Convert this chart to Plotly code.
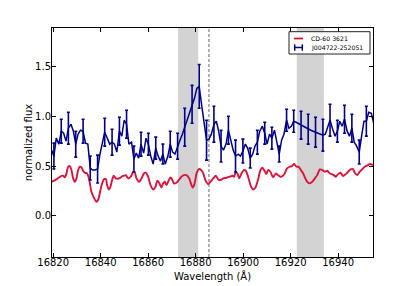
import plotly.graph_objects as go

# ---- data ----
red_name = "CD-60 3621"
red_wl = [16819.3, 16821.4, 16822.8, 16824.2, 16824.9, 16825.6, 16826.3, 16827.0, 16827.7, 16828.4,
          16829.1, 16829.8, 16830.5, 16831.2, 16831.9, 16832.6, 16833.3, 16834.3, 16835.2, 16836.1,
          16837.1, 16838.2, 16839.0, 16839.6, 16840.4, 16841.3, 16842.2, 16842.7, 16843.4, 16844.1,
          16844.8, 16845.5, 16846.4, 16847.8, 16848.8, 16849.8, 16850.6, 16851.6, 16852.7, 16853.7,
          16854.4, 16855.1, 16856.2, 16857.2, 16858.2, 16859.0, 16860.0, 16861.0, 16862.1, 16863.1,
          16863.8, 16864.6, 16865.6, 16866.3, 16867.0, 16867.7, 16868.7, 16869.4, 16870.1, 16870.8,
          16871.9, 16872.9, 16874.0, 16875.0, 16876.1, 16877.3, 16878.0, 16878.7, 16879.4, 16880.4,
          16881.3, 16882.3, 16883.2, 16884.1, 16885.3, 16886.2, 16887.4, 16888.5, 16889.5, 16890.5,
          16891.6, 16893.0, 16894.4, 16895.5, 16896.2, 16896.9, 16897.6, 16898.3, 16899.3, 16900.3,
          16901.1, 16902.1, 16903.1, 16904.2, 16905.2, 16906.3, 16907.3, 16908.1, 16909.1, 16909.8,
          16910.5, 16911.5, 16912.6, 16913.8, 16914.7, 16915.7, 16916.6, 16917.5, 16918.5, 16919.6,
          16920.6, 16921.5, 16922.5, 16923.4, 16924.3, 16925.3, 16926.2, 16927.0, 16928.1, 16929.1,
          16930.2, 16931.2, 16932.3, 16933.4, 16934.4, 16935.4, 16936.5, 16937.2, 16938.2, 16939.0,
          16940.0, 16941.0, 16942.1, 16943.1, 16944.2, 16945.2, 16946.3, 16947.0, 16948.0, 16949.1,
          16950.1, 16951.2, 16952.6, 16953.6, 16954.7]
red_flux = [0.342, 0.366, 0.393, 0.403, 0.386, 0.426, 0.493, 0.500, 0.460, 0.376,
            0.342, 0.376, 0.460, 0.493, 0.487, 0.453, 0.433, 0.426, 0.359, 0.242,
            0.185, 0.141, 0.164, 0.225, 0.309, 0.366, 0.369, 0.309, 0.265, 0.292,
            0.359, 0.403, 0.376, 0.376, 0.393, 0.403, 0.409, 0.376, 0.393, 0.443,
            0.433, 0.376, 0.342, 0.376, 0.426, 0.433, 0.393, 0.309, 0.265, 0.292,
            0.352, 0.332, 0.285, 0.326, 0.342, 0.309, 0.359, 0.386, 0.366, 0.326,
            0.332, 0.359, 0.393, 0.409, 0.409, 0.376, 0.326, 0.285, 0.309, 0.426,
            0.470, 0.460, 0.426, 0.359, 0.319, 0.342, 0.376, 0.403, 0.366, 0.359,
            0.376, 0.383, 0.393, 0.403, 0.393, 0.443, 0.426, 0.376, 0.426, 0.460,
            0.453, 0.393, 0.309, 0.265, 0.285, 0.366, 0.460, 0.483, 0.450, 0.419,
            0.460, 0.443, 0.386, 0.426, 0.409, 0.393, 0.400, 0.426, 0.477, 0.493,
            0.500, 0.520, 0.493, 0.493, 0.460, 0.426, 0.376, 0.342, 0.326, 0.342,
            0.376, 0.409, 0.466, 0.460, 0.443, 0.453, 0.426, 0.419, 0.409, 0.393,
            0.419, 0.433, 0.400, 0.416, 0.443, 0.466, 0.470, 0.433, 0.409, 0.443,
            0.466, 0.493, 0.510, 0.520, 0.510]

blue_name = "J004722-252051"
blue_wl = [16819.3, 16820.3, 16821.3, 16822.4, 16823.4, 16824.4, 16825.4, 16826.4, 16827.5, 16828.5,
           16829.5, 16830.5, 16831.5, 16832.6, 16833.6, 16834.6, 16835.6, 16836.6, 16837.7, 16838.7,
           16839.7, 16840.7, 16841.7, 16842.8, 16843.8, 16844.8, 16845.8, 16846.8, 16847.9, 16848.9,
           16849.9, 16850.9, 16851.9, 16853.0, 16854.0, 16855.0, 16856.0, 16857.0, 16858.1, 16859.1,
           16860.1, 16861.1, 16862.1, 16863.2, 16864.2, 16865.2, 16866.2, 16867.2, 16868.3, 16869.3,
           16870.3, 16871.3, 16872.4, 16873.4, 16874.4, 16875.4, 16876.4, 16877.5, 16878.5, 16879.5,
           16880.5, 16881.5, 16882.6, 16883.6, 16884.6, 16885.6, 16886.6, 16887.7, 16888.7, 16889.7,
           16890.7, 16891.7, 16892.8, 16893.8, 16894.8, 16895.8, 16896.8, 16897.9, 16898.9, 16899.9,
           16900.9, 16901.9, 16903.0, 16904.0, 16905.0, 16906.0, 16907.0, 16908.1, 16909.1, 16910.1,
           16911.1, 16912.1, 16913.2, 16914.2, 16915.2, 16916.2, 16917.2, 16918.3, 16919.3, 16920.3,
           16921.3, 16922.3, 16923.4, 16924.4, 16925.4, 16926.4, 16927.4, 16928.5, 16929.5, 16930.5,
           16931.5, 16932.5, 16933.6, 16934.6, 16935.6, 16936.6, 16937.6, 16938.7, 16939.7, 16940.7,
           16941.7, 16942.7, 16943.8, 16944.8, 16945.8, 16946.8, 16947.8, 16948.9, 16949.9, 16950.9,
           16951.9, 16952.9, 16954.0, 16955.0]
blue_flux = [0.66, 0.60, 0.78, 0.72, 0.85, 0.83, 0.75, 0.88, 0.92, 0.85,
             0.72, 0.82, 0.86, 0.85, 0.73, 0.72, 0.48, 0.46, 0.46, 0.47,
             0.62, 0.75, 0.84, 0.78, 0.72, 0.74, 0.72, 0.64, 0.85, 0.80,
             0.96, 0.92, 0.72, 0.74, 0.57, 0.63, 0.58, 0.72, 0.63, 0.78,
             0.72, 0.60, 0.52, 0.68, 0.60, 0.55, 0.62, 0.52, 0.60, 0.72,
             0.64, 0.62, 0.70, 0.76, 0.82, 0.89, 0.96, 1.04, 1.12, 1.18,
             1.28, 1.30, 1.10, 0.90, 0.76, 0.77, 0.82, 0.92, 0.95, 0.85,
             0.70, 0.66, 0.72, 0.86, 0.75, 0.66, 0.60, 0.62, 0.60, 0.65,
             0.72, 0.68, 0.58, 0.62, 0.70, 0.74, 0.85, 0.90, 0.83, 0.72,
             0.82, 0.78, 0.86, 0.72, 0.62, 0.76, 0.82, 0.96, 0.88, 0.90,
             0.95, 0.94, 0.925, 0.91, 0.90, 0.885, 0.87, 0.86, 0.85, 0.84,
             0.83, 0.82, 0.81, 0.82, 0.88, 0.96, 0.88, 0.80, 0.85, 0.95,
             0.90, 0.97, 0.85, 0.80, 0.88, 0.74, 0.70, 0.64, 0.80, 0.95,
             0.95, 1.04, 1.03, 0.93]
# error bars shown on every third blue sample (starting with the 2nd)
blue_err = [0.13, 0.12, 0.16, 0.13, 0.12, 0.12, 0.14, 0.14, 0.13, 0.14,
            0.14, 0.13, 0.12, 0.11, 0.11, 0.10, 0.13, 0.13, 0.19, 0.19,
            0.22, 0.20, 0.18, 0.16, 0.14, 0.16, 0.12, 0.10, 0.12, 0.11,
            0.11, 0.08, 0.11, 0.11, 0.14, 0.15, 0.15, 0.16, 0.16, 0.11,
            0.14, 0.14, 0.12, 0.15]

shade_regions = [(16872.6, 16881.1), (16922.6, 16934.0)]
line_center = 16885.6

x_ticks = [16820, 16840, 16860, 16880, 16900, 16920, 16940]
y_ticks = [0.0, 0.5, 1.0, 1.5]
x_range = [16819.5, 16954.7]
y_range = [-0.413, 1.886]

RED = "#DC143C"
BLUE = "#00008B"
FONT = "DejaVu Sans"

fig = go.Figure()
fig.add_trace(go.Scatter(x=red_wl, y=red_flux, mode="lines", name=red_name,
                         line=dict(color=RED, width=1.9, shape="spline", smoothing=0.6),
                         showlegend=False))
fig.add_trace(go.Scatter(x=blue_wl, y=blue_flux, mode="lines", name=blue_name,
                         line=dict(color=BLUE, width=1.5), showlegend=False))
fig.add_trace(go.Scatter(x=blue_wl[1::3], y=blue_flux[1::3], mode="markers",
                         marker=dict(size=1, color=BLUE),
                         error_y=dict(type="data", array=blue_err, color=BLUE,
                                      thickness=1.6, width=1.5),
                         showlegend=False, hoverinfo="skip"))

shapes = []
for x0, x1 in shade_regions:
    shapes.append(dict(type="rect", xref="x", yref="paper", x0=x0, x1=x1, y0=0, y1=1,
                       fillcolor="#d3d3d3", line=dict(width=0), layer="below"))
shapes.append(dict(type="line", xref="x", yref="paper", x0=line_center, x1=line_center,
                   y0=0, y1=1, line=dict(color="#888888", width=1.3, dash="3px,2px"),
                   layer="below"))

# manual legend (paper coordinates; plot area spans page px 52..373 x 28..257)
def px2x(p):
    return (p - 52) / 321.0

def py2y(p):
    return (257 - p) / 229.0

shapes.append(dict(type="rect", xref="paper", yref="paper",
                   x0=px2x(289), x1=px2x(370), y0=py2y(54), y1=py2y(31.7),
                   fillcolor="white", line=dict(color="#222222", width=1), layer="above"))
shapes.append(dict(type="line", xref="paper", yref="paper",
                   x0=px2x(294), x1=px2x(303), y0=py2y(38.5), y1=py2y(38.5),
                   line=dict(color=RED, width=1.8), layer="above"))
shapes.append(dict(type="line", xref="paper", yref="paper",
                   x0=px2x(294), x1=px2x(303), y0=py2y(47.5), y1=py2y(47.5),
                   line=dict(color=BLUE, width=1.5), layer="above"))
for xp in (294.7, 302.3):
    shapes.append(dict(type="line", xref="paper", yref="paper",
                       x0=px2x(xp), x1=px2x(xp), y0=py2y(44.3), y1=py2y(50.7),
                       line=dict(color=BLUE, width=1.5), layer="above"))

annotations = [
    dict(x=px2x(309), y=py2y(38.5), xref="paper", yref="paper", text=red_name,
         showarrow=False, xanchor="left", yanchor="middle",
         font=dict(family=FONT, size=6.2, color="black")),
    dict(x=px2x(309), y=py2y(47.5), xref="paper", yref="paper", text=blue_name,
         showarrow=False, xanchor="left", yanchor="middle",
         font=dict(family=FONT, size=6.2, color="black")),
]

axis_common = dict(showgrid=False, zeroline=False, showline=True, linecolor="black",
                   linewidth=1, mirror="ticks", ticks="inside", ticklen=4,
                   tickcolor="black", tickwidth=1,
                   tickfont=dict(family=FONT, size=10, color="black"))

# page body has an 8px margin: the figure is sized so that it fills the 415x286 window
fig.update_layout(
    width=407, height=278,
    margin=dict(l=44, r=42, t=20, b=29, autoexpand=False),
    paper_bgcolor="white", plot_bgcolor="white",
    font=dict(family=FONT, size=10, color="black"),
    shapes=shapes, annotations=annotations,
    xaxis=dict(range=x_range, tickvals=x_ticks, ticktext=[str(v) for v in x_ticks],
               ticklabelstandoff=-4,
               title=dict(text="Wavelength (Å)", font=dict(family=FONT, size=10), standoff=5),
               automargin=False, **axis_common),
    yaxis=dict(range=y_range, tickvals=y_ticks, ticktext=[f"{v:.1f}" for v in y_ticks],
               ticklabelstandoff=-2,
               title=dict(text="normalized flux", font=dict(family=FONT, size=10), standoff=0),
               automargin=False, **axis_common),
)

fig.write_html("out.html")
